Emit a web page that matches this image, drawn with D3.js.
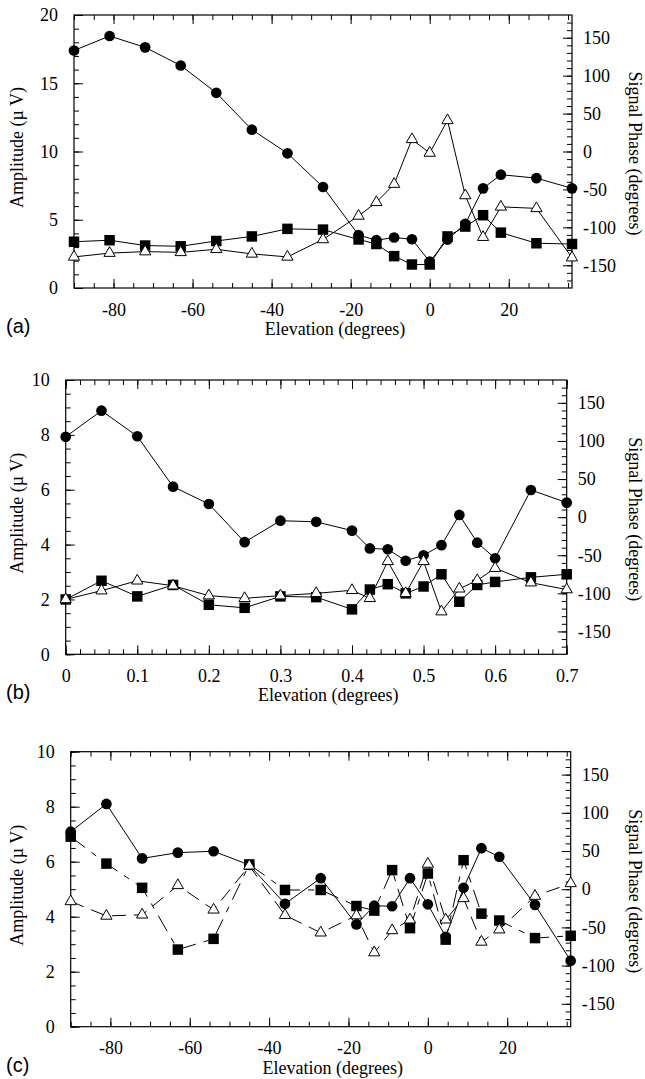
<!DOCTYPE html>
<html>
<head>
<meta charset="utf-8">
<script src="https://cdn.jsdelivr.net/npm/d3@7"></script>
<style>
  body { margin: 0; background: #fff; }
  svg text { font-family: "Liberation Serif", "Times New Roman", serif; fill: #000; }
</style>
</head>
<body>
<svg id="chart" width="645" height="1079"></svg>
<script>
// ---- data ----
// elevation (degrees) for panels (a) and (c)
const elevAC = [-90, -81, -72, -63, -54, -45, -36, -27, -18, -13.5, -9, -4.5, 0, 4.5, 9, 13.5, 18, 27, 36];
// elevation (degrees) for panel (b)
const elevB = [0, 0.05, 0.1, 0.15, 0.2, 0.25, 0.3, 0.35, 0.4, 0.425, 0.45, 0.475, 0.5, 0.525, 0.55, 0.575, 0.6, 0.65, 0.7];

// circles: amplitude (uV, left axis)
const ampA = [17.4, 18.46, 17.63, 16.3, 14.3, 11.6, 9.87, 7.4, 3.88, 3.5, 3.7, 3.57, 1.93, 3.55, 4.7, 7.3, 8.3, 8.05, 7.3];
const ampB = [7.93, 8.88, 7.95, 6.11, 5.48, 4.09, 4.87, 4.83, 4.51, 3.86, 3.83, 3.41, 3.61, 3.98, 5.08, 4.07, 3.5, 5.99, 5.53];
const ampC = [7.09, 8.1, 6.12, 6.33, 6.38, 5.88, 4.47, 5.4, 3.72, 4.4, 4.38, 5.4, 4.45, 3.27, 5.05, 6.49, 6.18, 4.43, 2.4];

// squares: signal phase (degrees, right axis)
const sqPhaseA = [-119, -117, -124, -125, -118, -112, -102, -103, -116, -122, -138, -149, -149, -112, -99, -84, -107, -121, -122];
const sqPhaseB = [-108, -83.5, -104, -89, -115, -119, -104, -105, -121, -95, -88, -100, -91, -75, -111, -89, -85, -79, -75];
const sqPhaseC = [68.8, 33.5, 1.8, -79, -65, 32.4, -1, -1, -22, -28, 25, -51, 20.5, -66, 38, -32, -41, -64, -61];

// triangles: signal phase (degrees, right axis)
const triPhaseA = [-139, -134, -132, -133, -129, -135, -139, -116, -85, -67, -43, 16, -2, 41, -58, -113, -73, -75, -140];
const triPhaseB = [-108, -96.5, -83.5, -90, -103, -106.5, -103, -100, -96, -106.5, -58, -100, -58, -124, -94, -83, -67, -86, -95];
const triPhaseC = [-16, -35, -33.5, 5, -27, 30.6, -34, -57, -34.5, -83, -54, -40, 33, -40, -12, -69, -53, -9, 7.6];

// tick labels
const elevTicksAC = [-80, -60, -40, -20, 0, 20];
const elevTicksB = [0, 0.1, 0.2, 0.3, 0.4, 0.5, 0.6, 0.7];
const ampTicksA = [0, 5, 10, 15, 20];
const ampTicksBC = [0, 2, 4, 6, 8, 10];
const phaseTicks = [-150, -100, -50, 0, 50, 100, 150];

const svg = d3.select('#chart');

const panels = [
    { tag: '(a)', left: 74, right: 572, top: 15, bottom: 288,
      xDomain: [-90, 36], xTicks: elevTicksAC, xMinor: d3.range(-90, 36.01, 5),
      yDomain: [0, 20], yTicks: ampTicksA, yMinor: d3.range(0, 20.01, 1),
      elev: elevAC, amp: ampA, sq: sqPhaseA, tri: triPhaseA,
      dashSq: null, dashTri: null, fmt: d => String(d) },
    { tag: '(b)', left: 65.7, right: 566.7, top: 380, bottom: 654.3,
      xDomain: [0, 0.7], xTicks: elevTicksB, xMinor: d3.range(0, 0.7001, 0.02),
      yDomain: [0, 10], yTicks: ampTicksBC, yMinor: d3.range(0, 10.01, 0.5),
      elev: elevB, amp: ampB, sq: sqPhaseB, tri: triPhaseB,
      dashSq: null, dashTri: null, fmt: d => d === 0 ? '0' : d.toFixed(1) },
    { tag: '(c)', left: 70.7, right: 570.7, top: 751.7, bottom: 1026.7,
      xDomain: [-90, 36], xTicks: elevTicksAC, xMinor: d3.range(-90, 36.01, 5),
      yDomain: [0, 10], yTicks: ampTicksBC, yMinor: d3.range(0, 10.01, 0.5),
      elev: elevAC, amp: ampC, sq: sqPhaseC, tri: triPhaseC,
      dashSq: '18,8,6,8', dashTri: '14,8', fmt: d => String(d) }
];

const MAJOR = 9, MINOR = 5;

function tidy(g) {
    g.select('.domain').remove();
    g.selectAll('line').attr('stroke', '#000').attr('stroke-width', 1);
    g.selectAll('text').attr('font-size', 18).attr('font-family', '"Liberation Serif", serif');
}

function drawPanel(p) {
    const g = svg.append('g');
    const x = d3.scaleLinear().domain(p.xDomain).range([p.left, p.right]);
    const yL = d3.scaleLinear().domain(p.yDomain).range([p.bottom, p.top]);
    const yR = d3.scaleLinear().domain([-180, 180]).range([p.bottom, p.top]);

    // inward minor ticks
    g.append('g').attr('transform', `translate(0,${p.bottom})`)
        .call(d3.axisBottom(x).tickValues(p.xMinor).tickSize(-MINOR).tickSizeOuter(0).tickFormat('')).call(tidy);
    g.append('g').attr('transform', `translate(0,${p.top})`)
        .call(d3.axisTop(x).tickValues(p.xMinor).tickSize(-MINOR).tickSizeOuter(0).tickFormat('')).call(tidy);
    g.append('g').attr('transform', `translate(${p.left},0)`)
        .call(d3.axisLeft(yL).tickValues(p.yMinor).tickSize(-MINOR).tickSizeOuter(0).tickFormat('')).call(tidy);
    g.append('g').attr('transform', `translate(${p.right},0)`)
        .call(d3.axisRight(yR).tickValues(d3.range(-170, 171, 10)).tickSize(-MINOR).tickSizeOuter(0).tickFormat('')).call(tidy);

    // major ticks with labels
    g.append('g').attr('transform', `translate(0,${p.bottom})`)
        .call(d3.axisBottom(x).tickValues(p.xTicks).tickSize(-MAJOR).tickSizeOuter(0).tickPadding(15).tickFormat(p.fmt)).call(tidy);
    g.append('g').attr('transform', `translate(0,${p.top})`)
        .call(d3.axisTop(x).tickValues(p.xTicks).tickSize(-MAJOR).tickSizeOuter(0).tickFormat('')).call(tidy);
    g.append('g').attr('transform', `translate(${p.left},0)`)
        .call(d3.axisLeft(yL).tickValues(p.yTicks).tickSize(-MAJOR).tickSizeOuter(0).tickPadding(16).tickFormat(d => String(d))).call(tidy);
    g.append('g').attr('transform', `translate(${p.right},0)`)
        .call(d3.axisRight(yR).tickValues(phaseTicks).tickSize(-MAJOR).tickSizeOuter(0).tickPadding(11).tickFormat(d => String(d))).call(tidy);

    // frame
    g.append('rect')
        .attr('x', p.left).attr('y', p.top)
        .attr('width', p.right - p.left).attr('height', p.bottom - p.top)
        .attr('fill', 'none').attr('stroke', '#000').attr('stroke-width', 1.2);

    // axis titles
    g.append('text')
        .attr('x', (p.left + p.right) / 2 + 12).attr('y', p.bottom + 47)
        .attr('text-anchor', 'middle').attr('font-size', 18)
        .text('Elevation (degrees)');
    g.append('text')
        .attr('transform', `translate(23,${(p.top + p.bottom) / 2 - 4}) rotate(-90)`)
        .attr('text-anchor', 'middle').attr('font-size', 18)
        .text('Amplitude (\u00b5 V)');
    g.append('text')
        .attr('transform', `translate(629,${(p.top + p.bottom) / 2 + 2}) rotate(90)`)
        .attr('text-anchor', 'middle').attr('font-size', 18)
        .text('Signal Phase (degrees)');
    g.append('text')
        .attr('x', 6).attr('y', p.bottom + 45)
        .style('font-family', '"Liberation Sans", Arial, sans-serif')
        .attr('font-size', 20)
        .text(p.tag);

    // series
    const ampPts = p.elev.map((e, i) => [x(e), yL(p.amp[i])]);
    const sqPts = p.elev.map((e, i) => [x(e), yR(p.sq[i])]);
    const triPts = p.elev.map((e, i) => [x(e), yR(p.tri[i])]);
    const line = d3.line();

    g.append('path').attr('d', line(ampPts))
        .attr('fill', 'none').attr('stroke', '#000').attr('stroke-width', 1);
    g.append('path').attr('d', line(triPts))
        .attr('fill', 'none').attr('stroke', '#000').attr('stroke-width', 1)
        .attr('stroke-dasharray', p.dashTri);
    g.append('path').attr('d', line(sqPts))
        .attr('fill', 'none').attr('stroke', '#000').attr('stroke-width', 1)
        .attr('stroke-dasharray', p.dashSq);

    g.selectAll(null).data(ampPts).enter().append('path')
        .attr('transform', d => `translate(${d[0]},${d[1]})`)
        .attr('d', d3.symbol(d3.symbolCircle, 90))
        .attr('fill', '#000');
    g.selectAll(null).data(sqPts).enter().append('path')
        .attr('transform', d => `translate(${d[0]},${d[1]})`)
        .attr('d', d3.symbol(d3.symbolSquare, 110))
        .attr('fill', '#000');
    g.selectAll(null).data(triPts).enter().append('path')
        .attr('transform', d => `translate(${d[0]},${d[1]})`)
        .attr('d', d3.symbol(d3.symbolTriangle, 55))
        .attr('fill', '#fff').attr('stroke', '#000').attr('stroke-width', 1);
}

panels.forEach(drawPanel);
</script>
</body>
</html>
